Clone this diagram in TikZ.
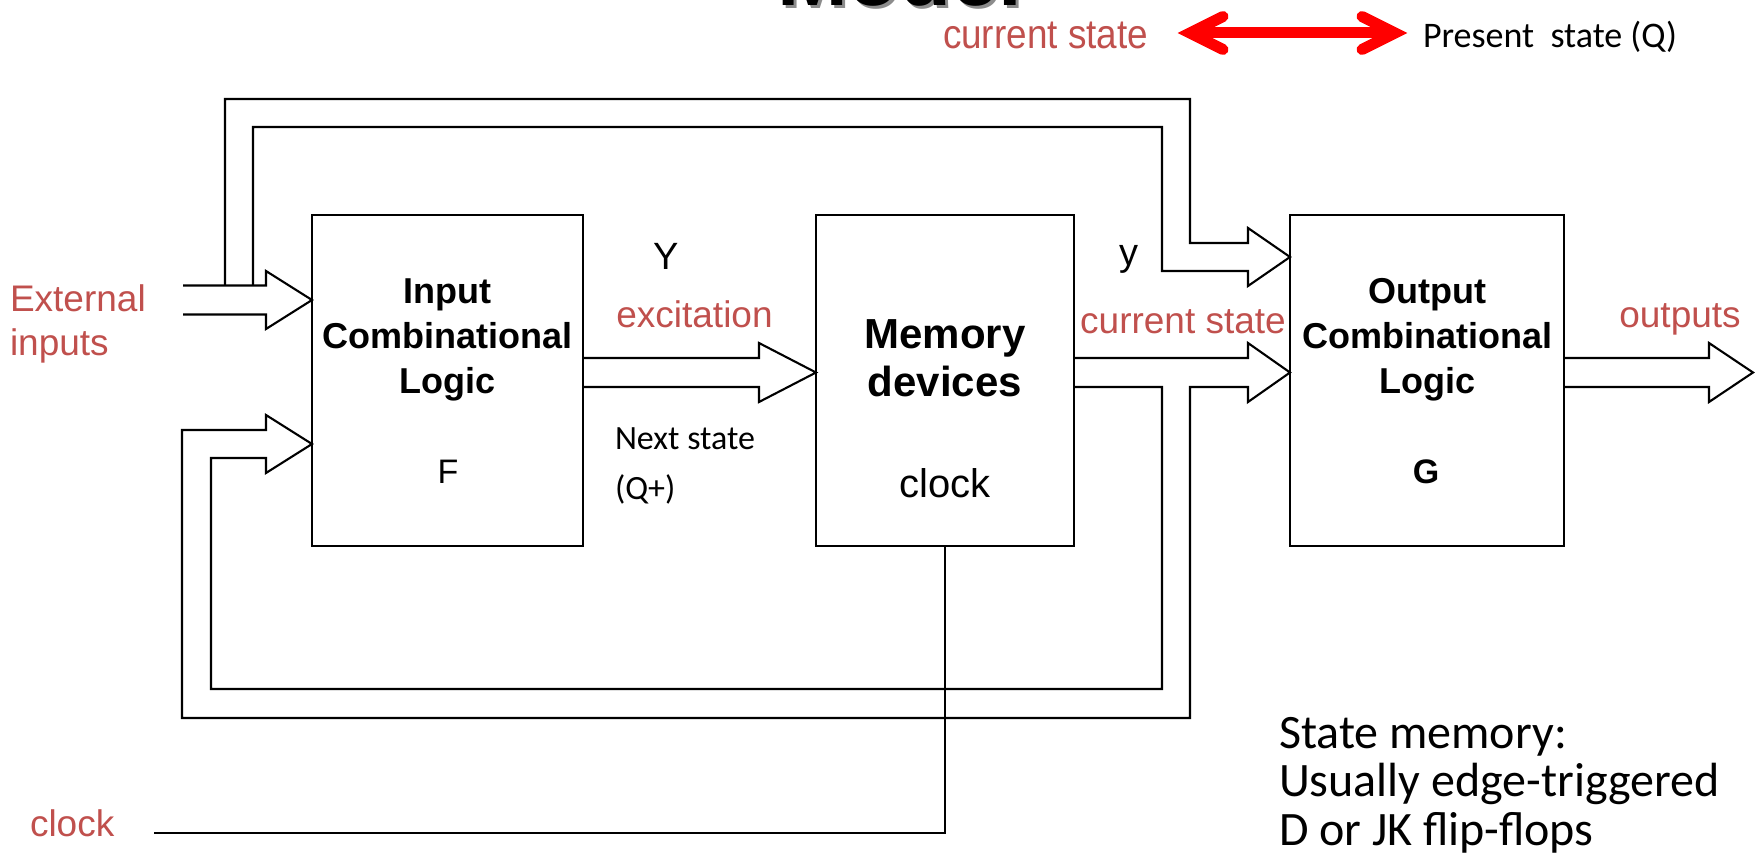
\documentclass[tikz,border=0pt]{standalone}
\usepackage{fontspec}
\setmainfont{Liberation Sans}
\newfontfamily\calib{Carlito}
\usetikzlibrary{calc}
\definecolor{redt}{RGB}{192,80,77}
\definecolor{arrred}{RGB}{255,0,0}
\newcommand{\fs}[2]{\fontsize{#1}{#2}\selectfont}

\tikzset{
  blk/.style={draw, line width=2.1, minimum height=331, inner sep=0, outer sep=0},
  wire/.style={line width=2.1, line join=miter, line cap=butt},
  lbl/.style={inner sep=0, outer sep=0},
  redlbl/.style={lbl, text=redt},
  boxtxt/.style={lbl, align=center, font=\fs{36}{45}\bfseries},
  dblred/.style={draw=arrred, line width=11},
}

\begin{document}
\begin{tikzpicture}[x=1pt, y=-1pt]
\useasboundingbox (0,0) rectangle (1758,864);

% title, mostly above the page edge
\node[lbl, anchor=base west, text=black!45] at (780,9) {\fs{85}{85}\bfseries Model};
\node[lbl, anchor=base west] at (777,6) {\fs{85}{85}\bfseries Model};

% legend: current state <-> present state
\node[redlbl, anchor=base west] (cst) at (943,49) {\scalebox{0.9}[1]{\fs{41}{41}current state}};
\node[lbl, anchor=base west] (pst) at (1423,48) {\calib\fs{36}{36}Present\ \ state (Q)};
\coordinate (dl) at (1190,33);
\coordinate (dr) at (1395,33);
\draw[dblred] (dl) -- (dr);
\draw[dblred, line cap=round, line join=miter] ($(dl)+(33,-16.5)$) -- (dl) -- ($(dl)+(33,16.5)$);
\draw[dblred, line cap=round, line join=miter] ($(dr)+(-33,-16.5)$) -- (dr) -- ($(dr)+(-33,16.5)$);

% blocks
\node[blk, minimum width=271] (F) at (447.5,380.5) {};
\node[blk, minimum width=258] (M) at (945,380.5) {};
\node[blk, minimum width=274] (G) at (1427,380.5) {};

% block texts (base anchor sits on the last line)
\node[boxtxt, anchor=base] (Ft) at (447.5,393) {Input\\Combinational\\Logic};
\node[lbl, anchor=base] (Fl) at (448,483) {\fs{34}{34}F};
\node[lbl, anchor=base, align=center, font=\fs{42}{48}\bfseries] (Mt) at (945,396) {Memory\\devices};
\node[lbl, anchor=base] (Mc) at (945,497) {\fs{40}{40}clock};
\node[boxtxt, anchor=base] (Gt) at (1427,393) {Output\\Combinational\\Logic};
\node[lbl, anchor=base] (Gl) at (1426,483) {\fs{34}{34}\bfseries G};

% labels
\node[redlbl, anchor=base west, align=left, font=\fs{37}{44}] (ext) at (10,355) {External\\inputs};
\node[lbl, anchor=base] (Ylab) at (666,269) {\fs{38}{38}Y};
\node[redlbl, anchor=base] (exc) at (694.5,327) {\fs{37}{37}excitation};
\node[lbl, anchor=base west, align=left, font=\calib\fs{34}{50}] (nxt) at (615,499) {Next state\\(Q+)};
\node[lbl, anchor=base] (ylab) at (1129,265) {\fs{38}{38}y};
\node[redlbl, anchor=base] (cur) at (1183,333) {\fs{37}{37}current state};
\node[redlbl, anchor=base] (outl) at (1680,327) {\fs{37}{37}outputs};
\node[redlbl, anchor=base west] (clk) at (30,836) {\fs{37}{37}clock};
\node[lbl, anchor=base west, align=left, font=\calib\fs{48}{48.5}] (note) at (1279,845)
  {State memory:\\Usually edge-triggered\\D or JK flip-flops};

% external inputs into F
\draw[wire] (183,314.5) -- (266,314.5) -- (266,329) -- (F.west |- 0,300)
  -- (266,271) -- (266,285.5) -- (183,285.5);

% inputs routed over the top into G
\draw[wire] (225,285.5) -- (225,99) -- (1190,99) -- (1190,243) -- (1248,243)
  -- (1248,228) -- (G.west |- 0,257) -- (1248,286) -- (1248,271)
  -- (1162,271) -- (1162,127) -- (253,127) -- (253,285.5);

% next state: F -> memory
\draw[wire] (F.east |- 0,358) -- (759,358) -- (759,343) -- (M.west |- 0,372.5)
  -- (759,402) -- (759,387) -- (F.east |- 0,387);

% present state: memory -> G, and fed back into F
\draw[wire] (M.east |- 0,358) -- (1248,358) -- (1248,343) -- (G.west |- 0,372.5)
  -- (1248,402) -- (1248,387) -- (1190,387) -- (1190,718) -- (182,718)
  -- (182,430) -- (266,430) -- (266,415) -- (F.west |- 0,444) -- (266,473)
  -- (266,458) -- (211,458) -- (211,689) -- (1162,689) -- (1162,387)
  -- (M.east |- 0,387);

% outputs
\draw[wire] (G.east |- 0,358) -- (1709,358) -- (1709,343) -- (1753,372.5)
  -- (1709,402) -- (1709,387) -- (G.east |- 0,387);

% clock line into memory
\draw[wire] (M.south) -- (M.south |- 0,833) -- (154,833);
\end{tikzpicture}
\end{document}
